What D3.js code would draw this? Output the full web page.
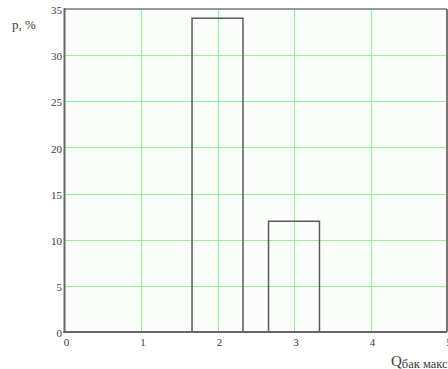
<!DOCTYPE html>
<html>
<head>
<meta charset="utf-8">
<script src="https://cdn.jsdelivr.net/npm/d3@7"></script>
<style>
  html, body { margin: 0; padding: 0; background: #ffffff; }
  svg { display: block; }
  svg text { font-family: "Times New Roman", "Liberation Serif", "DejaVu Serif", serif !important; fill: #3a3a3a; }
</style>
</head>
<body>
<svg id="chart" width="448" height="369"></svg>
<script>
// Histogram bins: left/right edges and frequency in percent
const binLeft = [1.667, 2.667];
const binRight = [2.333, 3.333];
const binValue = [34, 12];

// Axis ticks
const xTicks = [0, 1, 2, 3, 4, 5];
const yTicks = [0, 5, 10, 15, 20, 25, 30, 35];

const svg = d3.select("#chart");
const x = d3.scaleLinear().domain([0, 5]).range([64.5, 447]);
const y = d3.scaleLinear().domain([0, 35]).range([332, 9]);

// plot background
svg.append("rect")
  .attr("x", x(0)).attr("y", y(35))
  .attr("width", x(5) - x(0)).attr("height", y(0) - y(35))
  .attr("fill", "#fbfdfb");

// grid
const grid = svg.append("g").attr("stroke", "#96f196").attr("stroke-width", 1);
grid.selectAll("line.v").data(xTicks.filter(d => d > 0 && d < 5)).join("line")
  .attr("class", "v")
  .attr("x1", d => Math.round(x(d)) + 0.5).attr("x2", d => Math.round(x(d)) + 0.5)
  .attr("y1", y(35)).attr("y2", y(0));
grid.selectAll("line.h").data(yTicks.filter(d => d > 0 && d < 35)).join("line")
  .attr("class", "h")
  .attr("y1", d => Math.round(y(d)) + 0.5).attr("y2", d => Math.round(y(d)) + 0.5)
  .attr("x1", x(0)).attr("x2", x(5));

// bars (outline only)
svg.append("g").selectAll("rect").data(binValue).join("rect")
  .attr("x", (d, i) => x(binLeft[i]))
  .attr("y", d => y(d))
  .attr("width", (d, i) => x(binRight[i]) - x(binLeft[i]))
  .attr("height", d => y(0) - y(d))
  .attr("fill", "none")
  .attr("stroke", "#5a5a5a")
  .attr("stroke-width", 1.5);

// frame
svg.append("line").attr("x1", x(0)).attr("x2", x(5)).attr("y1", y(35)).attr("y2", y(35))
  .attr("stroke", "#777").attr("stroke-width", 1.5);
svg.append("line").attr("x1", x(5)).attr("x2", x(5)).attr("y1", y(35)).attr("y2", y(0))
  .attr("stroke", "#777").attr("stroke-width", 2);
svg.append("line").attr("x1", x(0)).attr("x2", x(0)).attr("y1", y(35) - 1).attr("y2", y(0) + 1)
  .attr("stroke", "#666").attr("stroke-width", 2);
svg.append("line").attr("x1", x(0) - 1).attr("x2", x(5)).attr("y1", y(0)).attr("y2", y(0))
  .attr("stroke", "#666").attr("stroke-width", 2);

// tick labels via d3 axes
const xAxis = svg.append("g")
  .attr("transform", `translate(0,${y(0)})`)
  .call(d3.axisBottom(x).tickValues(xTicks).tickSize(0).tickPadding(6).tickFormat(d3.format("d")));
xAxis.attr("font-family", null).attr("font-size", null);
xAxis.select(".domain").remove();
xAxis.selectAll("text")
  .attr("dx", 1.5)
  .style("font-size", "11px").attr("fill", "#3a3a3a");

const yAxis = svg.append("g")
  .attr("transform", `translate(${x(0)},0)`)
  .call(d3.axisLeft(y).tickValues(yTicks).tickSize(0).tickPadding(2.5).tickFormat(d3.format("d")));
yAxis.attr("font-family", null).attr("font-size", null);
yAxis.select(".domain").remove();
yAxis.selectAll("text")
  .attr("dy", "0.42em")
  .style("font-size", "11px").attr("fill", "#3a3a3a");

// axis titles
svg.append("text").attr("x", 12).attr("y", 29)
  .style("font-size", "13px").text("p, %");

const xt = svg.append("text").attr("x", 391).attr("y", 366).style("font-size", "15px");
xt.append("tspan").text("Q");
xt.append("tspan").attr("dy", 2).style("font-size", "12.5px").text("бак макс");
</script>
</body>
</html>
